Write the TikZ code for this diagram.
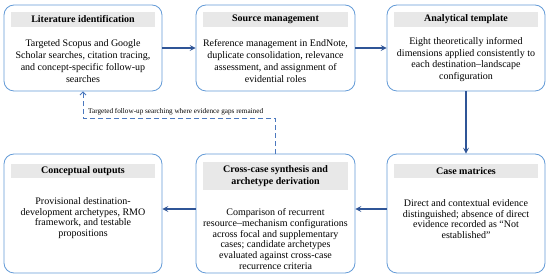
\documentclass[tikz,border=0pt]{standalone}
\usepackage{fontspec}
\setmainfont{Liberation Serif}
\usetikzlibrary{arrows.meta,calc}
\definecolor{boxblue}{RGB}{100,155,215}
\definecolor{arrowblue}{RGB}{47,85,151}
\definecolor{dashblue}{RGB}{75,120,190}
\definecolor{titlegray}{RGB}{232,232,232}
\begin{document}
\begin{tikzpicture}[x=1pt,y=1pt,
  box/.style={draw=boxblue, line width=0.8pt, rounded corners=10pt, minimum width=158pt, inner sep=0pt, fill=white},
  ttl/.style={fill=titlegray, minimum width=144pt, minimum height=15pt, inner sep=0pt, align=center, font=\bfseries\fontsize{10}{11.5}\selectfont},
  body/.style={align=center, inner sep=0pt, font=\fontsize{10}{11.8}\selectfont},
  flow/.style={draw=arrowblue, line width=1.4pt, -{Stealth[length=6pt,width=6pt,inset=2.5pt]}},
  fback/.style={draw=dashblue, line width=0.9pt, dash pattern=on 5pt off 3pt, -{Straight Barb[length=3pt,width=6pt]}},
  lbl/.style={inner sep=0pt, font=\fontsize{7.2}{8}\selectfont}
]
\useasboundingbox (0,0) rectangle (550,278);
% boxes
\node[box, minimum height=86pt] (b1) at (83,230) {};
\node[box, minimum width=159pt, minimum height=86pt] (b2) at (275.5,230) {};
\node[box, minimum height=86pt] (b3) at (466,230) {};
\node[box, minimum height=119pt] (b4) at (83,64.5) {};
\node[box, minimum width=159pt, minimum height=119pt] (b5) at (275.5,64.5) {};
\node[box, minimum height=119pt] (b6) at (466,64.5) {};
% titles
\node[ttl] (b1t) at (83,258.5) {Literature identification};
\node[ttl, minimum width=145pt] (b2t) at (275.5,258.5) {Source management};
\node[ttl] (b3t) at (466,258.5) {Analytical template};
\node[ttl, minimum height=14pt] (b4t) at (83,106.5) {Conceptual outputs};
\node[ttl, minimum width=145pt, minimum height=28pt] (b5t) at (275.5,102) {Cross-case synthesis and\\archetype derivation};
\node[ttl, minimum height=14pt] (b6t) at (466,106.5) {Case matrices};
% bodies
\node[body] (b1x) at (83,217) {Targeted Scopus and Google\\Scholar searches, citation tracing,\\and concept-specific follow-up\\searches};
\node[body] (b2x) at (275.5,217) {Reference management in EndNote,\\duplicate consolidation, relevance\\assessment, and assignment of\\evidential roles};
\node[body] (b3x) at (466,218.5) {Eight theoretically informed\\dimensions applied consistently to\\each destination–landscape\\configuration};
\node[body, font=\fontsize{10}{10.8}\selectfont] (b4x) at (83,60) {Provisional destination-\\development archetypes, RMO\\framework, and testable\\propositions};
\node[body, font=\fontsize{10}{10.8}\selectfont] (b5x) at (275.5,39) {Comparison of recurrent\\resource–mechanism configurations\\across focal and supplementary\\cases; candidate archetypes\\evaluated against cross-case\\recurrence criteria};
\node[body, font=\fontsize{10}{10.8}\selectfont] (b6x) at (466,59) {Direct and contextual evidence\\distinguished; absence of direct\\evidence recorded as “Not\\established”};
% connectors
\draw[flow] (b1) -- (b2);
\draw[flow] (b2) -- (b3);
\draw[flow] (b3) -- (b6);
\draw[flow] ($(b6.west)+(0,4.5)$) -- ($(b5.east)+(0,4.5)$);
\draw[flow] ($(b5.west)+(0,4.5)$) -- ($(b4.east)+(0,4.5)$);
\coordinate (fbc) at (83,160);
\draw[fback] (b5.north) |- (fbc) -- (b1.south);
\node[lbl, anchor=base west] (fbl) at (88,164) {Targeted follow-up searching where evidence gaps remained};
\end{tikzpicture}
\end{document}
